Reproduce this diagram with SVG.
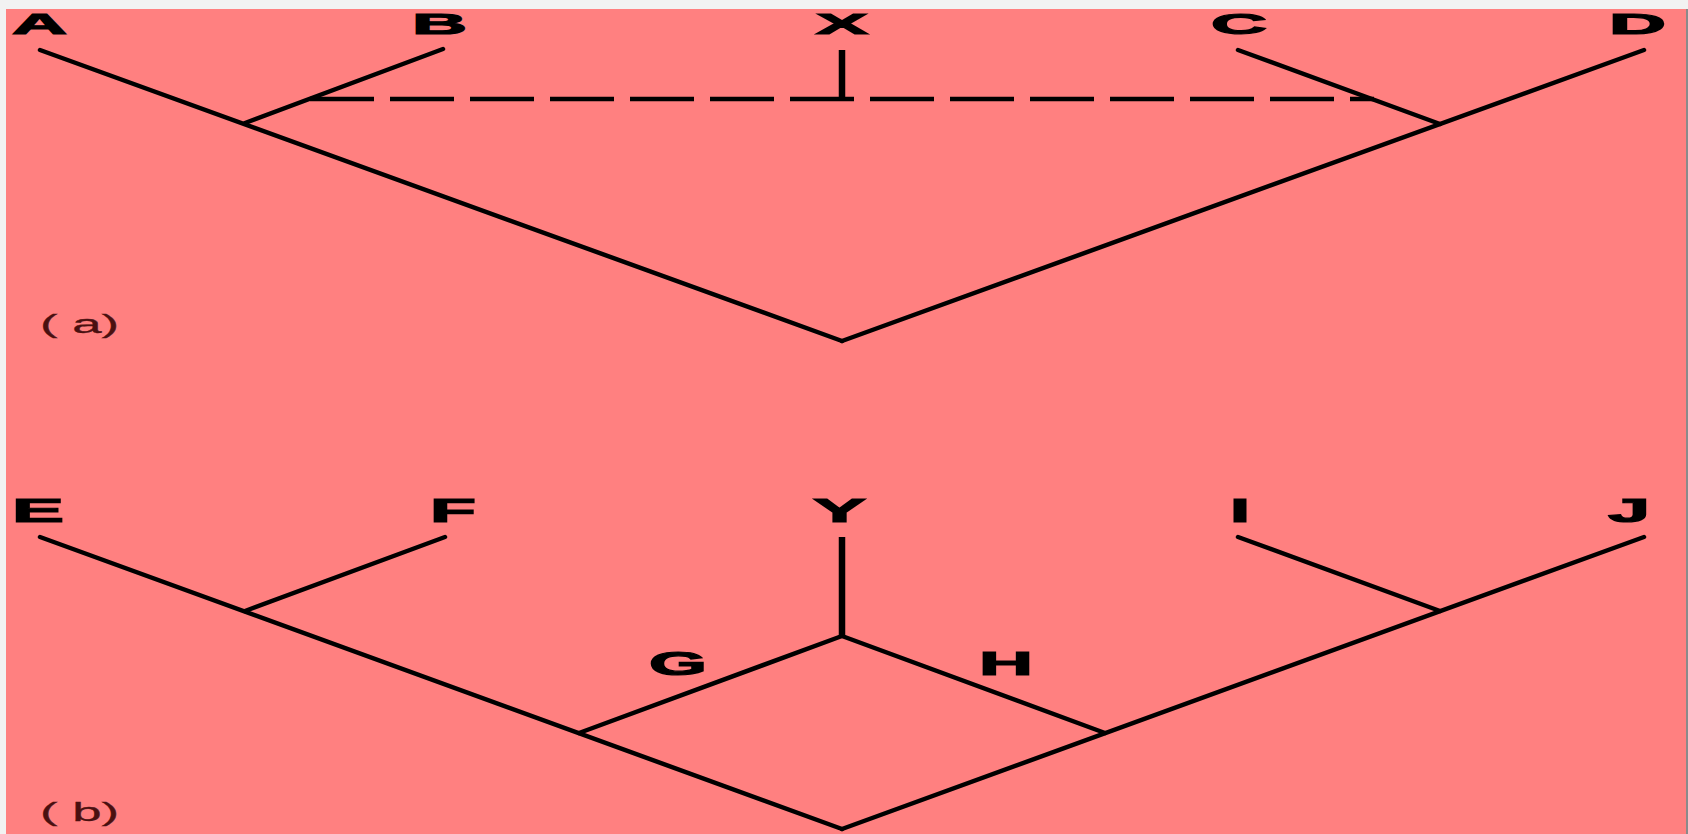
<svg xmlns="http://www.w3.org/2000/svg" width="1688" height="834" viewBox="0 0 1688 834">
<style>
.bg{fill:#ff8080}
.ln{stroke:#000;stroke-width:4.5;fill:none;stroke-linecap:round}
.vt{stroke:#000;stroke-width:6.5;fill:none}
.dash{stroke:#000;stroke-width:4.5;fill:none;stroke-dasharray:64 16}
.lt{font-family:"Liberation Sans",Arial,sans-serif;font-weight:bold;fill:#000;stroke:#000;stroke-width:1.2}
.top{font-size:30px}
.bot{font-size:33px}
.cap{font-family:"Liberation Sans",Arial,sans-serif;font-size:25px;fill:#4a1010;stroke:#4a1010;stroke-width:0.3}
</style>
<rect x="0" y="0" width="1688" height="834" fill="#f2f2f2"/>
<rect class="bg" x="6" y="9" width="1680" height="825"/>
<rect x="1686" y="9" width="2" height="825" fill="#8a8a8a"/>
<g id="connectors">
  <line class="ln" x1="40" y1="50" x2="842" y2="341"/>
  <line class="ln" x1="443" y1="49" x2="245" y2="123"/>
  <line class="ln" x1="1644" y1="50" x2="842" y2="341"/>
  <line class="ln" x1="1238" y1="50" x2="1440" y2="124"/>
  <line class="vt" x1="842" y1="50" x2="842" y2="99"/>
  <line class="dash" x1="310" y1="99" x2="1374" y2="99"/>
  <line class="ln" x1="40" y1="537" x2="842" y2="829"/>
  <line class="ln" x1="445" y1="537" x2="245" y2="611"/>
  <line class="ln" x1="1644" y1="537" x2="842" y2="829"/>
  <line class="ln" x1="1238" y1="537" x2="1440" y2="611"/>
  <line class="ln" x1="579" y1="733" x2="842" y2="636"/>
  <line class="ln" x1="842" y1="636" x2="1105" y2="733"/>
  <line class="vt" x1="842" y1="537" x2="842" y2="637"/>
</g>
<g id="node-A"><text class="lt top" x="12" y="34" textLength="55" lengthAdjust="spacingAndGlyphs">A</text></g>
<g id="node-B"><text class="lt top" x="412" y="34" textLength="55" lengthAdjust="spacingAndGlyphs">B</text></g>
<g id="node-X"><text class="lt top" x="816" y="34" textLength="52" lengthAdjust="spacingAndGlyphs">X</text></g>
<g id="node-C"><text class="lt top" x="1211" y="34" textLength="56" lengthAdjust="spacingAndGlyphs">C</text></g>
<g id="node-D"><text class="lt top" x="1609" y="34" textLength="57" lengthAdjust="spacingAndGlyphs">D</text></g>
<g id="label-a"><text class="cap" x="40" y="333" textLength="79" lengthAdjust="spacingAndGlyphs">( a)</text></g>
<g id="node-E"><text class="lt bot" x="12" y="522" textLength="52" lengthAdjust="spacingAndGlyphs">E</text></g>
<g id="node-F"><text class="lt bot" x="430" y="522" textLength="46" lengthAdjust="spacingAndGlyphs">F</text></g>
<g id="node-Y"><text class="lt bot" x="813" y="522" textLength="53" lengthAdjust="spacingAndGlyphs">Y</text></g>
<g id="node-I"><text class="lt bot" x="1230" y="522" textLength="20" lengthAdjust="spacingAndGlyphs">I</text></g>
<g id="node-J"><text class="lt bot" x="1608" y="522" textLength="42" lengthAdjust="spacingAndGlyphs">J</text></g>
<g id="node-G"><text class="lt bot" x="649" y="675" textLength="58" lengthAdjust="spacingAndGlyphs">G</text></g>
<g id="node-H"><text class="lt bot" x="979" y="675" textLength="54" lengthAdjust="spacingAndGlyphs">H</text></g>
<g id="label-b"><text class="cap" x="40" y="821" textLength="79" lengthAdjust="spacingAndGlyphs">( b)</text></g>
</svg>
